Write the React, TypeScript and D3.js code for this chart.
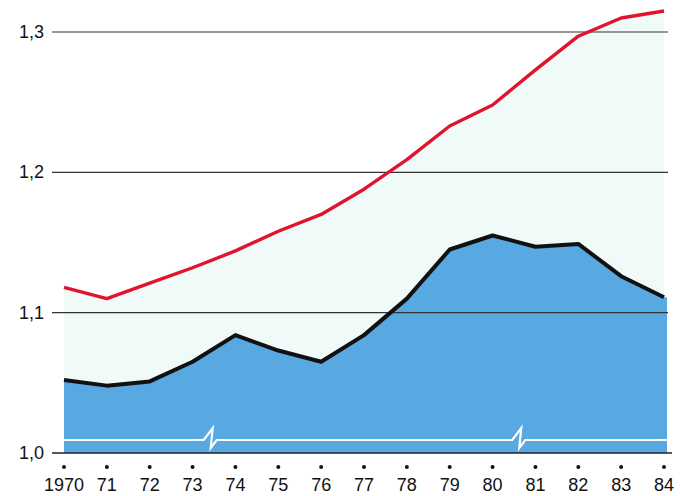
import React from "react";
import * as d3 from "d3";

const years = ["1970", "71", "72", "73", "74", "75", "76", "77", "78", "79", "80", "81", "82", "83", "84"];
const redValues = [1.118, 1.11, 1.121, 1.132, 1.144, 1.158, 1.17, 1.188, 1.209, 1.233, 1.248, 1.273, 1.297, 1.31, 1.315];
const blueValues = [1.052, 1.048, 1.051, 1.065, 1.084, 1.073, 1.065, 1.084, 1.11, 1.145, 1.155, 1.147, 1.149, 1.126, 1.111];
const yTicks = [1.0, 1.1, 1.2, 1.3];
const yTickLabels = ["1,0", "1,1", "1,2", "1,3"];
const breakYears = [3.4, 10.6];

export default function App() {
  const W = 680, H = 496;
  const x = d3.scaleLinear().domain([0, years.length - 1]).range([64, 664]);
  const y = d3.scaleLinear().domain([1.0, 1.3]).range([453, 32]);
  const font = "'Liberation Sans', Arial, sans-serif";

  const redLine = d3.line<number>().x((_, i) => x(i)).y((d) => y(d));
  const blueLine = d3.line<number>().x((_, i) => x(i)).y((d) => y(d));
  const paleArea = d3.area<number>().x((_, i) => x(i)).y0(y(1.0)).y1((d) => y(d));
  const blueArea = d3.area<number>().x((_, i) => x(i)).y0(y(1.0)).y1((d) => y(d));

  const extL = x(0), extR = x(years.length - 1) + 3;
  const by = y(1.0) - 13;
  let brk = `M${extL},${by}`;
  breakYears.forEach((b) => {
    const bx = x(b);
    brk += ` H${bx - 6} L${bx + 3},${by - 12} L${bx + 1},${by + 8} L${bx + 7},${by}`;
  });
  brk += ` H${extR}`;

  return (
    <svg width={W} height={H} style={{ position: "absolute", left: 0, top: 0, background: "#fff" }}>
      <path d={paleArea([...redValues]) || ""} fill="#f0faf9" />
      <path d={blueArea(blueValues) || ""} fill="#58a8e2" />
      <rect x={x(years.length - 1)} y={y(blueValues[blueValues.length - 1])} width={3} height={y(1.0) - y(blueValues[blueValues.length - 1])} fill="#58a8e2" />
      <path d={brk} fill="none" stroke="#fff" strokeWidth={2.2} />
      {yTicks.map((t, i) => (
        <g key={t}>
          <line x1={52} x2={i === 0 ? 672 : 668} y1={y(t)} y2={y(t)} stroke={i === 0 ? "#222" : "#333"} strokeWidth={i === 0 ? 1.6 : 1.1} />
          <text x={44} y={y(t) + 6} textAnchor="end" fontFamily={font} fontSize={18} fill="#111">{yTickLabels[i]}</text>
        </g>
      ))}
      <path d={blueLine(blueValues) || ""} fill="none" stroke="#111" strokeWidth={4} strokeLinejoin="round" />
      <path d={redLine(redValues) || ""} fill="none" stroke="#e0142c" strokeWidth={3.4} strokeLinejoin="round" />
      {years.map((yr, i) => (
        <g key={yr}>
          <circle cx={x(i)} cy={467} r={2} fill="#111" />
          <text x={x(i)} y={491} textAnchor="middle" fontFamily={font} fontSize={18} fill="#111">{yr}</text>
        </g>
      ))}
    </svg>
  );
}
